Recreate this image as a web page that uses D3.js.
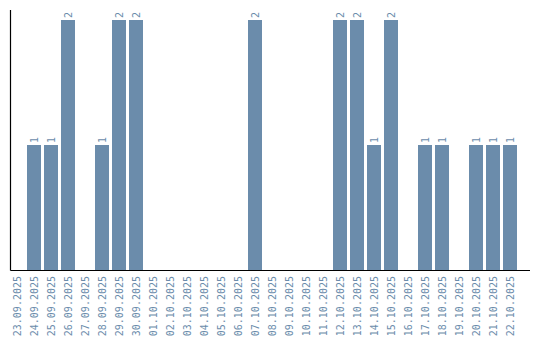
<!DOCTYPE html>
<html>
<head>
<script src="https://d3js.org/d3.v7.min.js"></script>
<style>
  body { margin: 0; background: #fff; }
</style>
</head>
<body>
<svg></svg>
<script>
var dates = ["23.09.2025","24.09.2025","25.09.2025","26.09.2025","27.09.2025","28.09.2025","29.09.2025","30.09.2025",
             "01.10.2025","02.10.2025","03.10.2025","04.10.2025","05.10.2025","06.10.2025","07.10.2025","08.10.2025",
             "09.10.2025","10.10.2025","11.10.2025","12.10.2025","13.10.2025","14.10.2025","15.10.2025","16.10.2025",
             "17.10.2025","18.10.2025","19.10.2025","20.10.2025","21.10.2025","22.10.2025"];
var counts = [0,1,1,2,0,1,2,2, 0,0,0,0,0,0,2,0, 0,0,0,2,2,1,2,0, 1,1,0,1,1,1];

var width = 540, height = 340,
    axisLeft = 10.5, axisRight = 530, axisTop = 10, axisBottom = 270,
    color = "#6b8cab";

var svg = d3.select("svg").attr("width", width).attr("height", height);

var x = d3.scaleBand().domain(dates).range([8.5, 518.5]).paddingInner(3/17).paddingOuter(1.5/17);
var y = d3.scaleLinear().domain([0, 2]).range([axisBottom, axisTop + 10]);

svg.append("g")
   .selectAll("rect")
   .data(counts)
   .join("rect")
   .attr("x", function(d, i) { return x(dates[i]); })
   .attr("y", function(d) { return y(d); })
   .attr("width", x.bandwidth())
   .attr("height", function(d) { return y(0) - y(d); })
   .attr("fill", color);

// value labels above the bars
counts.forEach(function(d, i) {
  if (d <= 0) return;
  svg.append("text")
     .attr("transform", "translate(" + (x(dates[i]) + x.bandwidth()/2 + 3.5) + "," + (y(d) - 2) + ")rotate(-90)")
     .attr("font-family", "DejaVu Sans Mono")
     .attr("font-size", "10px")
     .attr("fill", color)
     .text(d);
});

// x axis
var xAxis = svg.append("g")
   .attr("transform", "translate(0," + axisBottom + ")")
   .call(d3.axisBottom(x).tickSize(0).tickSizeOuter(0));
xAxis.select(".domain").remove();
xAxis.selectAll("text")
   .attr("font-family", "DejaVu Sans Mono")
   .attr("font-size", "10px")
   .attr("fill", color)
   .attr("text-anchor", "end")
   .attr("dx", "-6")
   .attr("dy", "0")
   .attr("x", 0)
   .attr("y", 3.5)
   .attr("transform", "rotate(-90)");

// axis lines
svg.append("line")
   .attr("x1", axisLeft).attr("x2", axisRight)
   .attr("y1", axisBottom + 0.5).attr("y2", axisBottom + 0.5)
   .attr("stroke", "#000").attr("stroke-width", 1.2);
svg.append("line")
   .attr("x1", axisLeft).attr("x2", axisLeft)
   .attr("y1", axisTop).attr("y2", axisBottom + 0.5)
   .attr("stroke", "#000").attr("stroke-width", 1.2);
</script>
</body>
</html>
